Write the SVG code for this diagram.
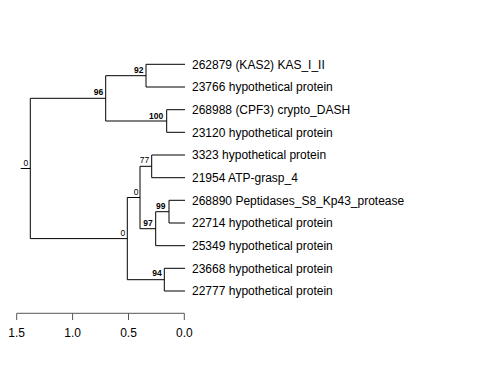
<svg xmlns="http://www.w3.org/2000/svg" width="480" height="384" viewBox="0 0 480 384">
<style>
.e{fill:none;stroke:#000;stroke-width:1}
.ax{fill:none;stroke:#555;stroke-width:1}
.tip{font-family:"Liberation Sans",Arial,sans-serif;font-size:12px;fill:#000}
.bs{font-family:"Liberation Sans",Arial,sans-serif;font-size:8.5px;fill:#000;text-anchor:end}
.b{font-weight:bold}
.tk{font-family:"Liberation Sans",Arial,sans-serif;font-size:12px;fill:#000;text-anchor:middle}
</style>
<rect width="480" height="384" fill="#fff"/>
<g id="connectors" class="e">
<path d="M20.7 168.5H30.3M30.3 98.3V238.6M30.3 98.3H105.7M30.3 238.6H127.3"/>
<path d="M105.7 75.7V121M105.7 75.7H146M105.7 121H166.7"/>
<path d="M146 64.3V87M146 64.3H185M146 87H185"/>
<path d="M166.7 109.7V132.3M166.7 109.7H185M166.7 132.3H185"/>
<path d="M127.3 197.5V279.7M127.3 197.5H140M127.3 279.7H164.3"/>
<path d="M140 166.3V228.7M140 166.3H151.7M140 228.7H155.7"/>
<path d="M151.7 155V177.7M151.7 155H185M151.7 177.7H185"/>
<path d="M155.7 211.7V245.7M155.7 211.7H169M155.7 245.7H185"/>
<path d="M169 200.3V223M169 200.3H185M169 223H185"/>
<path d="M164.3 268.3V291M164.3 268.3H185M164.3 291H185"/>
</g>
<g id="n_root"><text class="bs" x="28.3" y="165.5">0</text></g>
<g id="n96"><text class="bs b" x="103.2" y="95.3">96</text></g>
<g id="n92"><text class="bs b" x="143.5" y="72.7">92</text></g>
<g id="n100"><text class="bs b" x="163.2" y="118.5">100</text></g>
<g id="n0_lower"><text class="bs" x="125.3" y="235.6">0</text></g>
<g id="n0_upper"><text class="bs" x="138.5" y="194.8">0</text></g>
<g id="n77"><text class="bs" x="149.2" y="163.3">77</text></g>
<g id="n97"><text class="bs b" x="152.7" y="225.7">97</text></g>
<g id="n99"><text class="bs b" x="165.5" y="208.5">99</text></g>
<g id="n94"><text class="bs b" x="161.7" y="275.9">94</text></g>
<g id="t1"><text class="tip" x="192" y="68.6">262879 (KAS2) KAS_I_II</text></g>
<g id="t2"><text class="tip" x="192" y="91.3">23766 hypothetical protein</text></g>
<g id="t3"><text class="tip" x="192" y="114">268988 (CPF3) crypto_DASH</text></g>
<g id="t4"><text class="tip" x="192" y="136.6">23120 hypothetical protein</text></g>
<g id="t5"><text class="tip" x="192" y="159.3">3323 hypothetical protein</text></g>
<g id="t6"><text class="tip" x="192" y="182">21954 ATP-grasp_4</text></g>
<g id="t7"><text class="tip" x="192" y="204.6">268890 Peptidases_S8_Kp43_protease</text></g>
<g id="t8"><text class="tip" x="192" y="227.3">22714 hypothetical protein</text></g>
<g id="t9"><text class="tip" x="192" y="250">25349 hypothetical protein</text></g>
<g id="t10"><text class="tip" x="192" y="272.6">23668 hypothetical protein</text></g>
<g id="t11"><text class="tip" x="192" y="295.3">22777 hypothetical protein</text></g>
<g id="axis">
<path class="ax" d="M16.7 313.3H184.3M16.7 313.3V320M72.6 313.3V320M128.5 313.3V320M184.3 313.3V320"/>
<text class="tk" x="16.7" y="337">1.5</text>
<text class="tk" x="72.6" y="337">1.0</text>
<text class="tk" x="128.5" y="337">0.5</text>
<text class="tk" x="184.3" y="337">0.0</text>
</g>
</svg>
